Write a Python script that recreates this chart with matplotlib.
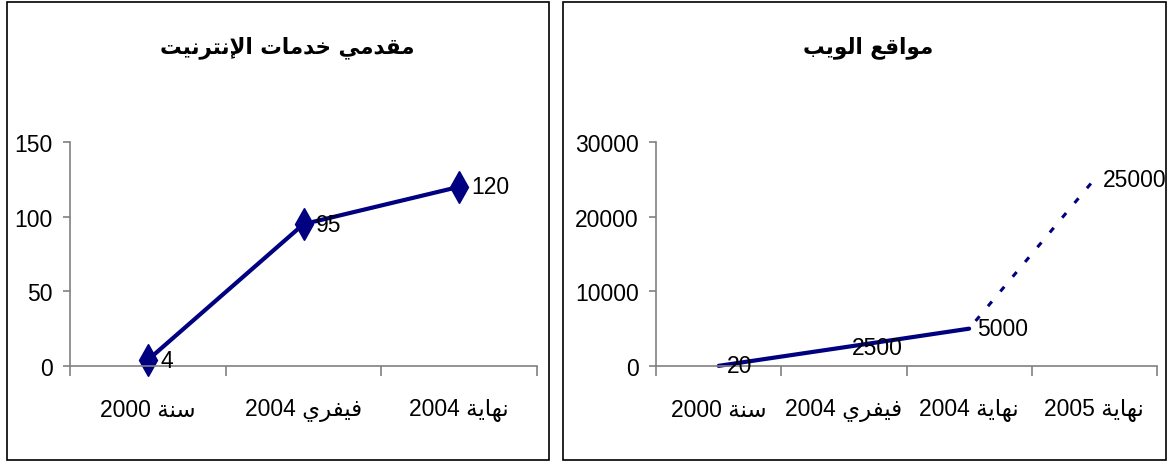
import matplotlib
matplotlib.use("Agg")
import matplotlib.pyplot as plt
from matplotlib.patches import Rectangle

# Arabic contextual forms (isolated, final, initial, medial)
FORMS = {
    'ا': ('\uFE8D', '\uFE8E', None, None),
    'ب': ('\uFE8F', '\uFE90', '\uFE91', '\uFE92'),
    'ة': ('\uFE93', '\uFE94', None, None),
    'ت': ('\uFE95', '\uFE96', '\uFE97', '\uFE98'),
    'خ': ('\uFEA5', '\uFEA6', '\uFEA7', '\uFEA8'),
    'د': ('\uFEA9', '\uFEAA', None, None),
    'ر': ('\uFEAD', '\uFEAE', None, None),
    'س': ('\uFEB1', '\uFEB2', '\uFEB3', '\uFEB4'),
    'ع': ('\uFEC9', '\uFECA', '\uFECB', '\uFECC'),
    'ف': ('\uFED1', '\uFED2', '\uFED3', '\uFED4'),
    'ق': ('\uFED5', '\uFED6', '\uFED7', '\uFED8'),
    'ل': ('\uFEDD', '\uFEDE', '\uFEDF', '\uFEE0'),
    'م': ('\uFEE1', '\uFEE2', '\uFEE3', '\uFEE4'),
    'ن': ('\uFEE5', '\uFEE6', '\uFEE7', '\uFEE8'),
    'ه': ('\uFEE9', '\uFEEA', '\uFEEB', '\uFEEC'),
    'و': ('\uFEED', '\uFEEE', None, None),
    'ي': ('\uFEF1', '\uFEF2', '\uFEF3', '\uFEF4'),
    'لا': ('\uFEFB', '\uFEFC', None, None),
    'لإ': ('\uFEF9', '\uFEFA', None, None),
}


def rtl(text):
    # join letters with their presentation forms, then reverse for display
    tokens = []
    i = 0
    while i < len(text):
        if text[i:i + 2] in FORMS:
            tokens.append(text[i:i + 2])
            i += 2
        else:
            tokens.append(text[i])
            i += 1
    out = []
    for k, t in enumerate(tokens):
        if t not in FORMS:
            out.append(t)
            continue
        prev = tokens[k - 1] if k > 0 else None
        nxt = tokens[k + 1] if k + 1 < len(tokens) else None
        join_prev = prev in FORMS and FORMS[prev][2] is not None
        join_next = nxt in FORMS and FORMS[t][2] is not None
        iso, fin, ini, med = FORMS[t]
        if join_prev and join_next:
            out.append(med)
        elif join_prev:
            out.append(fin)
        elif join_next:
            out.append(ini)
        else:
            out.append(iso)
    return ''.join(reversed(out))


def cat_label(word, year):
    return f"{year} {rtl(word)}"


plt.rcParams['font.family'] = ['Liberation Sans', 'DejaVu Sans']

# مقدمي خدمات الإنترنيت
isp_title = 'مقدمي خدمات الإنترنيت'
isp_words = ['سنة', 'فيفري', 'نهاية']
isp_years = ['2000', '2004', '2004']
isp_values = [4, 95, 120]

# مواقع الويب
web_title = 'مواقع الويب'
web_words = ['سنة', 'فيفري', 'نهاية', 'نهاية']
web_years = ['2000', '2004', '2004', '2005']
web_values = [20, 2500, 5000, 25000]
web_actual = 3  # the first three points are measured, the last one is a forecast

NAVY = '#000080'
AXIS = '#808080'
FS = 16.5

fig = plt.figure(figsize=(11.69, 4.64), dpi=100)
W, H = 1169, 464

# panel frames
for x0, x1 in [(7, 549), (563, 1166)]:
    fig.patches.append(Rectangle((x0 / W, 1 - 461 / H), (x1 - x0) / W, (461 - 3) / H,
                                 transform=fig.transFigure, fill=False,
                                 edgecolor='black', linewidth=1.2))


def setup_axes(ax, n, ymax, step, words, years):
    ax.set_xlim(0, n)
    ax.set_ylim(0, ymax)
    ax.set_yticks(range(0, ymax + 1, step))
    ax.set_xticks(range(n + 1))
    ax.set_xticklabels([])
    ax.set_xticks([i + 0.5 for i in range(n)], minor=True)
    ax.set_xticklabels([cat_label(w, y) for w, y in zip(words, years)], minor=True)
    for s in ['top', 'right']:
        ax.spines[s].set_visible(False)
    for s in ['left', 'bottom']:
        ax.spines[s].set_color(AXIS)
        ax.spines[s].set_linewidth(1.2)
    ax.tick_params(axis='x', which='major', direction='out', length=7.5,
                   color=AXIS, width=1.2)
    ax.tick_params(axis='x', which='minor', length=0, pad=23, labelsize=FS)
    ax.tick_params(axis='y', direction='out', length=5, color=AXIS, width=1.2,
                   labelsize=FS, pad=7.5)
    ax.patch.set_alpha(0)


# left chart
ax1 = fig.add_axes([70 / W, 1 - 367 / H, (537 - 70) / W, (367 - 143) / H])
setup_axes(ax1, len(isp_values), 150, 50, isp_words, isp_years)
xs1 = [i + 0.5 for i in range(len(isp_values))]
ax1.plot(xs1, isp_values, color=NAVY, linewidth=3, marker='d', markersize=16,
         markerfacecolor=NAVY, markeredgecolor=NAVY, clip_on=False)
for x, v in zip(xs1, isp_values):
    ax1.annotate(str(v), (x, v), xytext=(9, 0), textcoords='offset points',
                 ha='left', va='center', fontsize=FS)
fig.text(287 / W, 1 - 48 / H, rtl(isp_title), ha='center', va='center',
         fontsize=15.5, fontweight='bold', family='DejaVu Sans')

# right chart
ax2 = fig.add_axes([656 / W, 1 - 367 / H, (1157 - 656) / W, (367 - 143) / H])
setup_axes(ax2, len(web_values), 30000, 10000, web_words, web_years)
xs2 = [i + 0.5 for i in range(len(web_values))]
ax2.plot(xs2[:web_actual], web_values[:web_actual], color=NAVY, linewidth=3,
         solid_capstyle='round', clip_on=False)
ax2.plot(xs2[web_actual - 1:], web_values[web_actual - 1:], color=NAVY,
         linewidth=2.2, linestyle=(3, (2, 4.3)), dash_capstyle='butt', clip_on=False)
for x, v in zip(xs2, web_values):
    ax2.annotate(str(v), (x, v), xytext=(6, 0), textcoords='offset points',
                 ha='left', va='center', fontsize=FS, annotation_clip=False)
fig.text(868 / W, 1 - 48 / H, rtl(web_title), ha='center', va='center',
         fontsize=15.5, fontweight='bold', family='DejaVu Sans')

fig.savefig('out.png', dpi=100)
